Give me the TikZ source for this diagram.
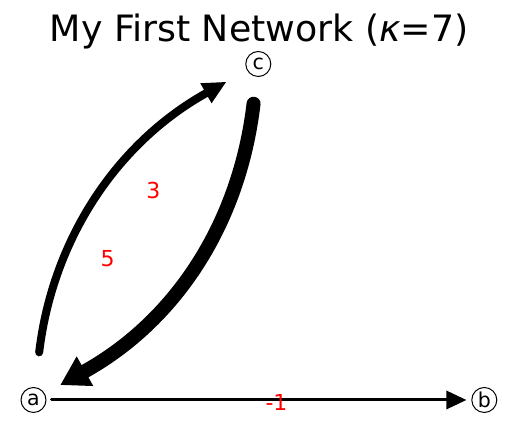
\documentclass[tikz,border=0pt]{standalone}
\usepackage{fontspec}
\setmainfont{DejaVu Sans}
\usetikzlibrary{arrows.meta}
\tikzset{
  vertex/.style={circle, draw, line width=1pt, minimum size=25pt, inner sep=0pt, font=\fontsize{20.5}{24}\selectfont},
  weight/.style={text=red, inner sep=0pt, font=\fontsize{22}{26}\selectfont},
}

\begin{document}
\begin{tikzpicture}[x=1pt, y=1pt, line cap=round]
  \useasboundingbox (0,0) rectangle (515,427);
  \node[anchor=base, font=\fontsize{36.3}{43}\selectfont] (title) at (259,385.5) {My First Network (\textit{κ}=7)};

  \node[vertex] (a) at (33.5,27) {a};
  \node[vertex] (b) at (484.3,27) {b};
  \node[vertex] (c) at (258.3,363) {c};

  \draw[line width=8pt, -{Triangle[length=23pt, width=23pt, line width=0pt]}, shorten <=35pt, shorten >=24pt] (a) to[bend left=27] (c);
  \draw[line width=14pt, -{Triangle[length=28pt, width=34pt, line width=0pt]}, shorten <=27pt, shorten >=18pt] (c) to[bend left=27] (a);
  \draw[line width=3pt, -{Triangle[length=20pt, width=19pt, line width=0pt]}, shorten <=5pt, shorten >=5pt] (a) -- (b);

  \node[weight] (w53) at (153.3,236.2) {3};
  \node[weight] (w35) at (107.5,168.7) {5};
  \node[weight] (w12) at (276.5,25) {-1};
\end{tikzpicture}
\end{document}
